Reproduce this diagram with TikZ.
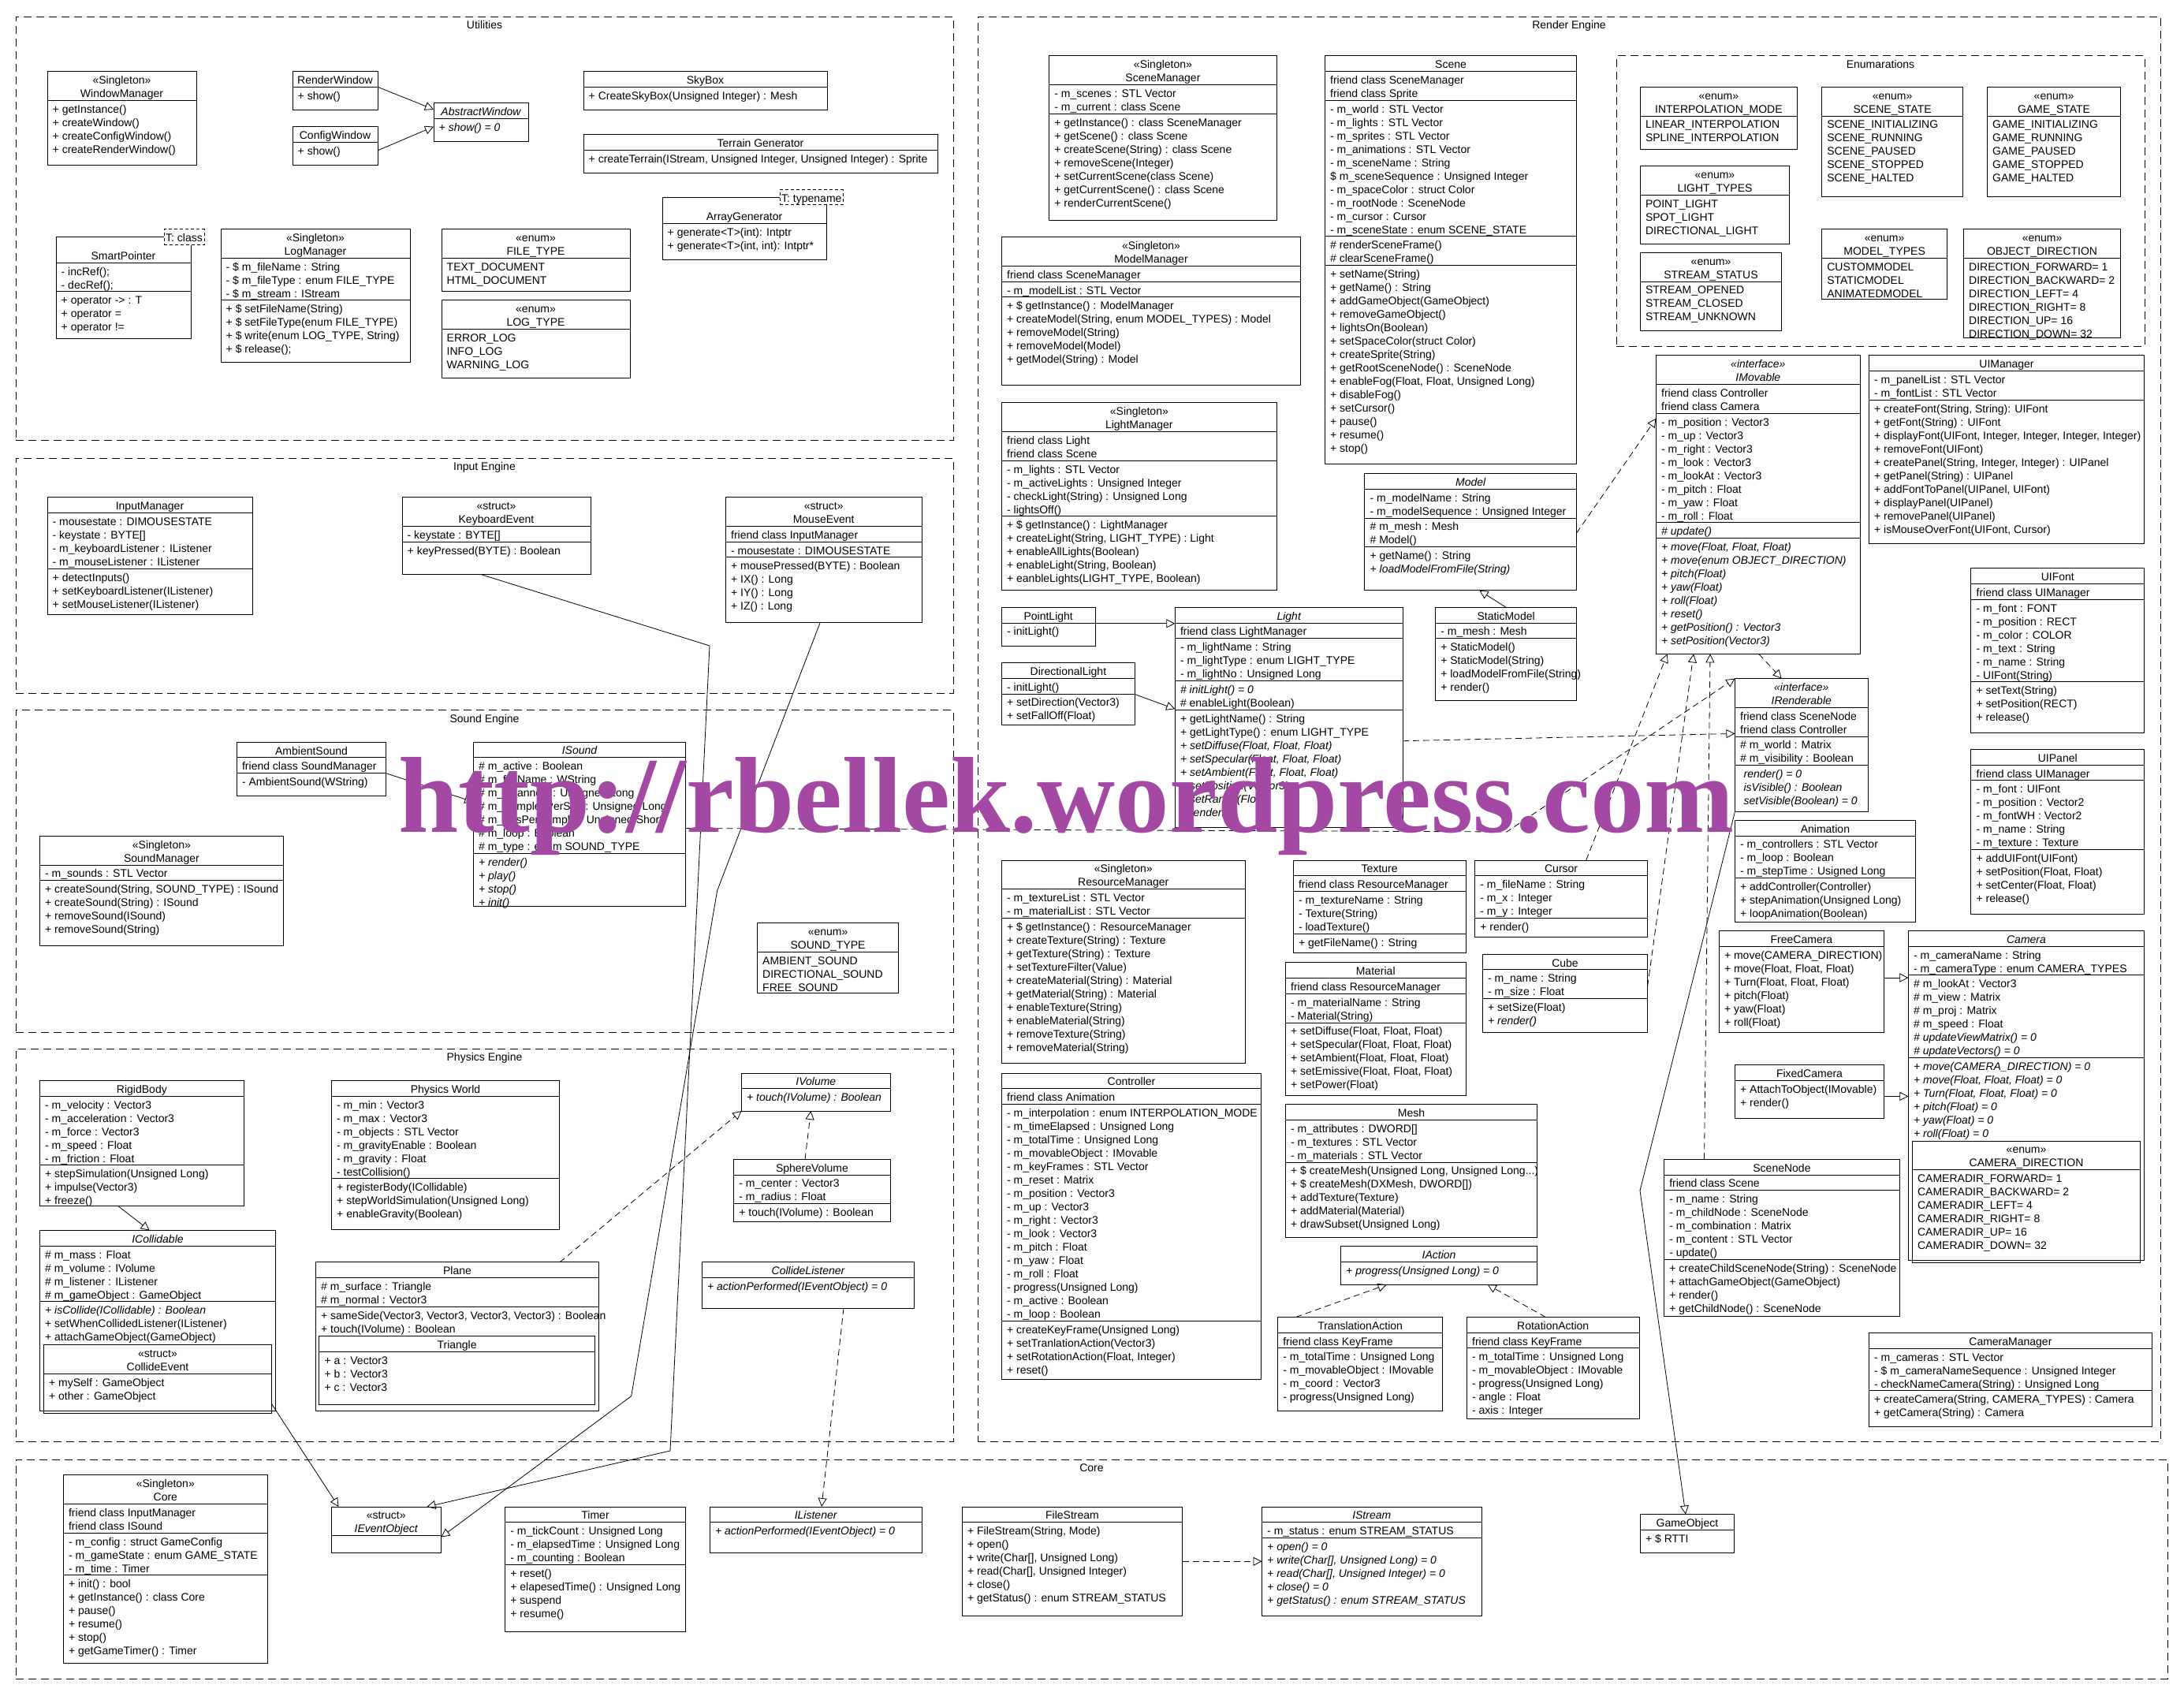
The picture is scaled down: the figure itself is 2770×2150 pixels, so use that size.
\documentclass[tikz,border=0pt]{standalone}
\usepackage{fontspec}
\setmainfont{Liberation Sans}
\newfontfamily\wmserif{Liberation Serif}
\usetikzlibrary{arrows.meta}
\definecolor{wmpurple}{RGB}{163,73,164}
\newcommand\ufont{\fontsize{14}{17}\selectfont}
\tikzset{
  ubx/.style={draw=black, line width=1.0pt, fill=white, inner sep=0pt, outer sep=0pt},
  utm/.style={draw=black, line width=0.9pt, fill=white, dash pattern=on 4pt off 3pt, inner sep=0pt, outer sep=0pt},
  pkgframe/.style={draw=black, line width=1.0pt, dash pattern=on 10pt off 6pt, inner sep=0pt, outer sep=0pt},
  sepline/.style={draw=black, line width=1.0pt},
  ltxt/.style={inner sep=0pt, anchor=base west, font=\ufont},
  ctxt/.style={inner sep=0pt, anchor=base, font=\ufont},
  genl/.style={draw=black, line width=0.8pt, -{Triangle[open, length=11pt, width=11pt, line width=0.8pt]}},
  reall/.style={genl, dash pattern=on 8pt off 5pt},
}
\newcommand\ubox[6][]{%
  \pgfmathsetmacro\ubw{#5-#3}\pgfmathsetmacro\ubh{#6-#4}%
  \node[ubx, #1, minimum width=\ubw pt, minimum height=\ubh pt, anchor=north west] (#2) at (#3,#4) {};
  \pgfmathsetmacro\utmp{#3+6.5}\xdef\ucxt{\utmp}%
  \pgfmathsetmacro\utmp{(#3+#5)/2}\xdef\ucxm{\utmp}%
  \xdef\ucxa{#3}\xdef\ucxb{#5}\xdef\ucy{#4}}
\newcommand\uhd[1]{\pgfmathsetmacro\utmp{\ucy+15.9}\node[ctxt] at (\ucxm,\utmp) {#1};\pgfmathsetmacro\utmp{\ucy+17}\xdef\ucy{\utmp}}
\newcommand\uln[1]{\pgfmathsetmacro\utmp{\ucy+15.9}\node[ltxt] at (\ucxt,\utmp) {#1};\pgfmathsetmacro\utmp{\ucy+17}\xdef\ucy{\utmp}}
\newcommand\usep{\pgfmathsetmacro\utmp{\ucy+2.7}\xdef\ucy{\utmp}\draw[sepline] (\ucxa,\ucy) -- (\ucxb,\ucy);}
\newcommand\ugap[1]{\pgfmathsetmacro\utmp{\ucy+#1}\xdef\ucy{\utmp}}
\newcommand\upkg[6]{%
  \pgfmathsetmacro\ubw{#4-#2}\pgfmathsetmacro\ubh{#5-#3}%
  \node[pkgframe, minimum width=\ubw pt, minimum height=\ubh pt, anchor=north west] (#1) at (#2,#3) {};
  \pgfmathsetmacro\utmp{(#2+#4)/2}\pgfmathsetmacro\utmpb{#3+15.5}%
  \node[ctxt] (#1t) at (\utmp,\utmpb) {#6};}
\newcommand\utmpl[6]{%
  \pgfmathsetmacro\ubw{#4-#2}\pgfmathsetmacro\ubh{#5-#3}%
  \node[utm, minimum width=\ubw pt, minimum height=\ubh pt, anchor=north west] (#1) at (#2,#3) {};
  \pgfmathsetmacro\utmp{#2+2}\pgfmathsetmacro\utmpb{#3+15.5}%
  \node[ltxt] at (\utmp,\utmpb) {#6};}
\begin{document}
\begin{tikzpicture}[x=1pt,y=-1pt]
\useasboundingbox (0,0) rectangle (2770,2150);
\fill[white] (0,0) rectangle (2770,2150);
% ---------------- packages
\upkg{fUtil}{20}{21}{1209}{558.7}{Utilities}
\upkg{fInput}{20}{581}{1209}{879}{Input Engine}
\upkg{fSound}{20}{900.6}{1209}{1309}{Sound Engine}
\upkg{fPhys}{20}{1330}{1209}{1828.6}{Physics Engine}
\upkg{fRender}{1240}{21}{2740}{1828.6}{Render Engine}
\upkg{fEnum}{2050}{70.8}{2720}{439}{Enumarations}
\upkg{fCore}{20}{1851}{2749}{2129}{Core}
% ---------------- Utilities
\ubox{WM}{60}{90.8}{249}{209.5}
\uhd{«Singleton»}\uhd{WindowManager}\usep
\uln{+ getInstance()}\uln{+ createWindow()}\uln{+ createConfigWindow()}\uln{+ createRenderWindow()}
\ubox{RW}{371}{90.8}{479}{139.7}
\uhd{RenderWindow}\usep\uln{+ show()}
\ubox{CW}{371}{160.6}{479}{209.5}
\uhd{ConfigWindow}\usep\uln{+ show()}
\ubox{AW}{550}{130.8}{670}{179.2}
\uhd{\itshape AbstractWindow}\usep\uln{\itshape + show() = 0}
\ubox{SkyBox}{740}{90.8}{1049}{139.7}
\uhd{SkyBox}\usep\uln{+ CreateSkyBox(Unsigned Integer) : Mesh}
\ubox{TG}{740}{170.4}{1189}{219.3}
\uhd{Terrain Generator}\usep\uln{+ createTerrain(IStream, Unsigned Integer, Unsigned Integer) : Sprite}
\ubox{AG}{840}{250.5}{1048}{329.6}
\ugap{13.2}\uhd{ArrayGenerator}\usep\uln{+ generate<T>(int): Intptr}\uln{+ generate<T>(int, int): Intptr*}
\utmpl{AGt}{989}{240.7}{1069}{259.8}{T: typename}
\ubox{SP}{71}{300.3}{242}{429.2}
\ugap{13.2}\uhd{SmartPointer}\usep\uln{- incRef();}\uln{- decRef();}\usep
\uln{+ operator -> : T}\uln{+ operator =}\uln{+ operator !=}
\utmpl{SPt}{208}{290.5}{259}{310.5}{T: class}
\ubox{LM}{280}{290.5}{520}{459.5}
\uhd{«Singleton»}\uhd{LogManager}\usep
\uln{- \$ m\_fileName : String}\uln{- \$ m\_fileType : enum FILE\_TYPE}\uln{- \$ m\_stream : IStream}\usep
\uln{+ \$ setFileName(String)}\uln{+ \$ setFileType(enum FILE\_TYPE)}\uln{+ \$ write(enum LOG\_TYPE, String)}\uln{+ \$ release();}
\ubox{FT}{560}{290.5}{799}{369.2}
\uhd{«enum»}\uhd{FILE\_TYPE}\usep\uln{TEXT\_DOCUMENT}\uln{HTML\_DOCUMENT}
\ubox{LT}{560}{380.4}{799}{479}
\uhd{«enum»}\uhd{LOG\_TYPE}\usep\uln{ERROR\_LOG}\uln{INFO\_LOG}\uln{WARNING\_LOG}
% ---------------- Input Engine
\ubox{IM}{60}{630.8}{320}{779}
\uhd{InputManager}\usep
\uln{- mousestate : DIMOUSESTATE}\uln{- keystate : BYTE[]}\uln{- m\_keyboardListener : IListener}\uln{- m\_mouseListener : IListener}\usep
\uln{+ detectInputs()}\uln{+ setKeyboardListener(IListener)}\uln{+ setMouseListener(IListener)}
\ubox{KE}{510}{630.8}{749}{728.4}
\uhd{«struct»}\uhd{KeyboardEvent}\usep\uln{- keystate : BYTE[]}\usep\uln{+ keyPressed(BYTE) : Boolean}
\ubox{ME}{920.4}{630.8}{1169}{789}
\uhd{«struct»}\uhd{MouseEvent}\usep\uln{friend class InputManager}\usep\uln{- mousestate : DIMOUSESTATE}\usep
\uln{+ mousePressed(BYTE) : Boolean}\uln{+ IX() : Long}\uln{+ IY() : Long}\uln{+ IZ() : Long}
% ---------------- Sound Engine
\ubox{AS}{300.4}{941.1}{489.7}{1009}
\uhd{AmbientSound}\usep\uln{friend class SoundManager}\usep\uln{- AmbientSound(WString)}
\ubox{IS}{600.4}{941}{869.5}{1149}
\uhd{\itshape ISound}\usep
\uln{\# m\_active : Boolean}\uln{\# m\_fileName : WString}\uln{\# m\_Channels : Unsigned Long}\uln{\# m\_SamplesPerSec : Unsigned Long}\uln{\# m\_BitsPerSample : Unsigned Short}\uln{\# m\_loop : Boolean}\uln{\# m\_type : enum SOUND\_TYPE}\usep
\uln{\itshape + render()}\uln{\itshape + play()}\uln{\itshape + stop()}\uln{\itshape + init()}
\ubox{SM}{50.4}{1060.3}{359.4}{1199}
\uhd{«Singleton»}\uhd{SoundManager}\usep\uln{- m\_sounds : STL Vector}\usep
\uln{+ createSound(String, SOUND\_TYPE) : ISound}\uln{+ createSound(String) : ISound}\uln{+ removeSound(ISound)}\uln{+ removeSound(String)}
\ubox{ST}{960.5}{1170.7}{1139.6}{1259}
\uhd{«enum»}\uhd{SOUND\_TYPE}\usep\uln{AMBIENT\_SOUND}\uln{DIRECTIONAL\_SOUND}\uln{FREE\_SOUND}
% ---------------- Physics Engine
\ubox{RB}{50.4}{1370.4}{309.4}{1529.7}
\uhd{RigidBody}\usep
\uln{- m\_velocity : Vector3}\uln{- m\_acceleration : Vector3}\uln{- m\_force : Vector3}\uln{- m\_speed : Float}\uln{- m\_friction : Float}\usep
\uln{+ stepSimulation(Unsigned Long)}\uln{+ impulse(Vector3)}\uln{+ freeze()}
\ubox{PW}{420.5}{1370.4}{709.6}{1559}
\uhd{Physics World}\usep
\uln{- m\_min : Vector3}\uln{- m\_max : Vector3}\uln{- m\_objects : STL Vector}\uln{- m\_gravityEnable : Boolean}\uln{- m\_gravity : Float}\uln{- testCollision()}\usep
\uln{+ registerBody(ICollidable)}\uln{+ stepWorldSimulation(Unsigned Long)}\uln{+ enableGravity(Boolean)}
\ubox{IVol}{940.4}{1361}{1129.3}{1409}
\uhd{\itshape IVolume}\usep\uln{\itshape + touch(IVolume) : Boolean}
\ubox{SV}{930.6}{1470.3}{1129.3}{1549}
\uhd{SphereVolume}\usep\uln{- m\_center : Vector3}\uln{- m\_radius : Float}\usep\uln{+ touch(IVolume) : Boolean}
\ubox{ICol}{50.4}{1560.5}{349.6}{1789.2}
\uhd{\itshape ICollidable}\usep
\uln{\# m\_mass : Float}\uln{\# m\_volume : IVolume}\uln{\# m\_listener : IListener}\uln{\# m\_gameObject : GameObject}\usep
\uln{\itshape + isCollide(ICollidable) : Boolean}\uln{+ setWhenCollidedListener(IListener)}\uln{+ attachGameObject(GameObject)}
\ubox[fill=none]{CE}{55.4}{1705.4}{344.6}{1792.4}
\uhd{«struct»}\uhd{CollideEvent}\usep\uln{+ mySelf : GameObject}\uln{+ other : GameObject}
\ubox{Plane}{400.4}{1600.8}{759.6}{1789.2}
\uhd{Plane}\usep\uln{\# m\_surface : Triangle}\uln{\# m\_normal : Vector3}\usep
\uln{+ sameSide(Vector3, Vector3, Vector3, Vector3) : Boolean}\uln{+ touch(IVolume) : Boolean}
\ubox[fill=none]{Tri}{404.9}{1694.5}{754.3}{1781}
\uhd{Triangle}\usep\uln{+ a : Vector3}\uln{+ b : Vector3}\uln{+ c : Vector3}
\ubox{CL}{890.4}{1600.8}{1159.6}{1659.2}
\uhd{\itshape CollideListener}\usep\uln{\itshape + actionPerformed(IEventObject) = 0}
% ---------------- Core
\ubox{Core}{80.4}{1870.7}{339.3}{2109}
\uhd{«Singleton»}\uhd{Core}\usep\uln{friend class InputManager}\uln{friend class ISound}\usep
\uln{- m\_config : struct GameConfig}\uln{- m\_gameState : enum GAME\_STATE}\uln{- m\_time : Timer}\usep
\uln{+ init() : bool}\uln{+ getInstance() : class Core}\uln{+ pause()}\uln{+ resume()}\uln{+ stop()}\uln{+ getGameTimer() : Timer}
\ubox{IEO}{420}{1911}{559.4}{1969}
\uhd{«struct»}\uhd{\itshape IEventObject}\usep
\ubox{Timer}{640.6}{1911}{869.5}{2069}
\uhd{Timer}\usep\uln{- m\_tickCount : Unsigned Long}\uln{- m\_elapsedTime : Unsigned Long}\uln{- m\_counting : Boolean}\usep
\uln{+ reset()}\uln{+ elapesedTime() : Unsigned Long}\uln{+ suspend}\uln{+ resume()}
\ubox{IL}{900.3}{1911}{1169}{1969}
\uhd{\itshape IListener}\usep\uln{\itshape + actionPerformed(IEventObject) = 0}
\ubox{FS}{1220.4}{1911}{1499.6}{2049}
\uhd{FileStream}\usep\uln{+ FileStream(String, Mode)}\uln{+ open()}\uln{+ write(Char[], Unsigned Long)}\uln{+ read(Char[], Unsigned Integer)}\uln{+ close()}\uln{+ getStatus() : enum STREAM\_STATUS}
\ubox{ISt}{1600.5}{1911}{1879}{2049}
\uhd{\itshape IStream}\usep\uln{- m\_status : enum STREAM\_STATUS}\usep
\uln{\itshape + open() = 0}\uln{\itshape + write(Char[], Unsigned Long) = 0}\uln{\itshape + read(Char[], Unsigned Integer) = 0}\uln{\itshape + close() = 0}\uln{\itshape + getStatus() : enum STREAM\_STATUS}
\ubox{GO}{2080.3}{1920.5}{2199.5}{1969}
\uhd{GameObject}\usep\uln{+ \$ RTTI}
% ---------------- Render Engine
\ubox{SceneMgr}{1330.6}{70.8}{1619.3}{279.3}
\uhd{«Singleton»}\uhd{SceneManager}\usep\uln{- m\_scenes : STL Vector}\uln{- m\_current : class Scene}\usep
\uln{+ getInstance() : class SceneManager}\uln{+ getScene() : class Scene}\uln{+ createScene(String) : class Scene}\uln{+ removeScene(Integer)}\uln{+ setCurrentScene(class Scene)}\uln{+ getCurrentScene() : class Scene}\uln{+ renderCurrentScene()}
\ubox{ModelMgr}{1270.4}{300.7}{1649.6}{488.8}
\uhd{«Singleton»}\uhd{ModelManager}\usep\uln{friend class SceneManager}\usep\uln{- m\_modelList : STL Vector}\usep
\uln{+ \$ getInstance() : ModelManager}\uln{+ createModel(String, enum MODEL\_TYPES) : Model}\uln{+ removeModel(String)}\uln{+ removeModel(Model)}\uln{+ getModel(String) : Model}
\ubox{LightMgr}{1270.4}{510.7}{1619.3}{748.9}
\uhd{«Singleton»}\uhd{LightManager}\usep\uln{friend class Light}\uln{friend class Scene}\usep
\uln{- m\_lights : STL Vector}\uln{- m\_activeLights : Unsigned Integer}\uln{- checkLight(String) : Unsigned Long}\uln{- lightsOff()}\usep
\uln{+ \$ getInstance() : LightManager}\uln{+ createLight(String, LIGHT\_TYPE) : Light}\uln{+ enableAllLights(Boolean)}\uln{+ enableLight(String, Boolean)}\uln{+ eanbleLights(LIGHT\_TYPE, Boolean)}
\ubox{PL}{1270.4}{770.3}{1389}{819.2}
\uhd{PointLight}\usep\uln{- initLight()}
\ubox{DL}{1270.4}{840.6}{1439.4}{919.3}
\uhd{DirectionalLight}\usep\uln{- initLight()}\usep\uln{+ setDirection(Vector3)}\uln{+ setFallOff(Float)}
\ubox{Light}{1490.3}{770.3}{1779.1}{1049.6}
\uhd{\itshape Light}\usep\uln{friend class LightManager}\usep
\uln{- m\_lightName : String}\uln{- m\_lightType : enum LIGHT\_TYPE}\uln{- m\_lightNo : Unsigned Long}\usep
\uln{\itshape \# initLight() = 0}\uln{\# enableLight(Boolean)}\usep
\uln{+ getLightName() : String}\uln{+ getLightType() : enum LIGHT\_TYPE}\uln{\itshape + setDiffuse(Float, Float, Float)}\uln{\itshape + setSpecular(Float, Float, Float)}\uln{\itshape + setAmbient(Float, Float, Float)}\uln{\itshape + setPosition(Vector3)}\uln{\itshape + setRange(Float)}\uln{\itshape + render()}
\ubox{Scene}{1680.4}{70.8}{1999.6}{588.9}
\uhd{Scene}\usep\uln{friend class SceneManager}\uln{friend class Sprite}\usep
\uln{- m\_world : STL Vector}\uln{- m\_lights : STL Vector}\uln{- m\_sprites : STL Vector}\uln{- m\_animations : STL Vector}\uln{- m\_sceneName : String}\uln{\$ m\_sceneSequence : Unsigned Integer}\uln{- m\_spaceColor : struct Color}\uln{- m\_rootNode : SceneNode}\uln{- m\_cursor : Cursor}\uln{- m\_sceneState : enum SCENE\_STATE}\usep
\uln{\# renderSceneFrame()}\uln{\# clearSceneFrame()}\usep
\uln{+ setName(String)}\uln{+ getName() : String}\uln{+ addGameObject(GameObject)}\uln{+ removeGameObject()}\uln{+ lightsOn(Boolean)}\uln{+ setSpaceColor(struct Color)}\uln{+ createSprite(String)}\uln{+ getRootSceneNode() : SceneNode}\uln{+ enableFog(Float, Float, Unsigned Long)}\uln{+ disableFog()}\uln{+ setCursor()}\uln{+ pause()}\uln{+ resume()}\uln{+ stop()}
\ubox{Model}{1730.9}{600.6}{1999.6}{748.9}
\uhd{\itshape Model}\usep\uln{- m\_modelName : String}\uln{- m\_modelSequence : Unsigned Integer}\usep
\uln{\# m\_mesh : Mesh}\uln{\# Model()}\usep\uln{+ getName() : String}\uln{\itshape + loadModelFromFile(String)}
\ubox{StaticModel}{1820.6}{770.3}{1999.6}{888.5}
\uhd{StaticModel}\usep\uln{- m\_mesh : Mesh}\usep\uln{+ StaticModel()}\uln{+ StaticModel(String)}\uln{+ loadModelFromFile(String)}\uln{+ render()}
\ubox{IMov}{2100.4}{450.7}{2359.3}{829.4}
\uhd{\itshape «interface»}\uhd{\itshape IMovable}\usep\uln{friend class Controller}\uln{friend class Camera}\usep
\uln{- m\_position : Vector3}\uln{- m\_up : Vector3}\uln{- m\_right : Vector3}\uln{- m\_look : Vector3}\uln{- m\_lookAt : Vector3}\uln{- m\_pitch : Float}\uln{- m\_yaw : Float}\uln{- m\_roll : Float}\usep
\uln{\itshape \# update()}\usep
\uln{\itshape + move(Float, Float, Float)}\uln{\itshape + move(enum OBJECT\_DIRECTION)}\uln{\itshape + pitch(Float)}\uln{\itshape + yaw(Float)}\uln{\itshape + roll(Float)}\uln{\itshape + reset()}\uln{\itshape + getPosition() : Vector3}\uln{\itshape + setPosition(Vector3)}
\ubox{UIM}{2370.4}{450.7}{2719.6}{689}
\uhd{UIManager}\usep\uln{- m\_panelList : STL Vector}\uln{- m\_fontList : STL Vector}\usep
\uln{+ createFont(String, String): UIFont}\uln{+ getFont(String) : UIFont}\uln{+ displayFont(UIFont, Integer, Integer, Integer, Integer)}\uln{+ removeFont(UIFont)}\uln{+ createPanel(String, Integer, Integer) : UIPanel}\uln{+ getPanel(String) : UIPanel}\uln{+ addFontToPanel(UIPanel, UIFont)}\uln{+ displayPanel(UIPanel)}\uln{+ removePanel(UIPanel)}\uln{+ isMouseOverFont(UIFont, Cursor)}
\ubox{UIF}{2499.9}{720.7}{2719.6}{929}
\uhd{UIFont}\usep\uln{friend class UIManager}\usep
\uln{- m\_font : FONT}\uln{- m\_position : RECT}\uln{- m\_color : COLOR}\uln{- m\_text : String}\uln{- m\_name : String}\uln{- UIFont(String)}\usep
\uln{+ setText(String)}\uln{+ setPosition(RECT)}\uln{+ release()}
\ubox{UIP}{2499.9}{950.4}{2719.6}{1159}
\uhd{UIPanel}\usep\uln{friend class UIManager}\usep
\uln{- m\_font : UIFont}\uln{- m\_position : Vector2}\uln{- m\_fontWH : Vector2}\uln{- m\_name : String}\uln{- m\_texture : Texture}\usep
\uln{+ addUIFont(UIFont)}\uln{+ setPosition(Float, Float)}\uln{+ setCenter(Float, Float)}\uln{+ release()}
\ubox{IRen}{2200.4}{860.6}{2369.1}{1029.6}
\uhd{\itshape «interface»}\uhd{\itshape IRenderable}\usep\uln{friend class SceneNode}\uln{friend class Controller}\usep
\uln{\# m\_world : Matrix}\uln{\# m\_visibility : Boolean}\usep
\uln{\itshape\kern4.5pt render() = 0}\uln{\itshape\kern4.5pt isVisible() : Boolean}\uln{\itshape\kern4.5pt setVisible(Boolean) = 0}
\ubox{Anim}{2200.4}{1040.3}{2429.4}{1169.3}
\uhd{Animation}\usep\uln{- m\_controllers : STL Vector}\uln{- m\_loop : Boolean}\uln{- m\_stepTime : Usigned Long}\usep
\uln{+ addController(Controller)}\uln{+ stepAnimation(Unsigned Long)}\uln{+ loopAnimation(Boolean)}
\ubox{FC}{2180.3}{1180.4}{2389.6}{1309}
\uhd{FreeCamera}\usep\uln{+ move(CAMERA\_DIRECTION)}\uln{+ move(Float, Float, Float)}\uln{+ Turn(Float, Float, Float)}\uln{+ pitch(Float)}\uln{+ yaw(Float)}\uln{+ roll(Float)}
\ubox{FxC}{2200.4}{1350.8}{2389.6}{1418.3}
\uhd{FixedCamera}\usep\uln{+ AttachToObject(IMovable)}\uln{+ render()}
\ubox{Cam}{2420.4}{1180.4}{2719.6}{1598.5}
\uhd{\itshape Camera}\usep\uln{- m\_cameraName : String}\uln{- m\_cameraType : enum CAMERA\_TYPES}\usep
\uln{\# m\_lookAt : Vector3}\uln{\# m\_view : Matrix}\uln{\# m\_proj : Matrix}\uln{\# m\_speed : Float}\uln{\itshape \# updateViewMatrix() = 0}\uln{\itshape \# updateVectors() = 0}\usep
\uln{\itshape + move(CAMERA\_DIRECTION) = 0}\uln{\itshape + move(Float, Float, Float) = 0}\uln{\itshape + Turn(Float, Float, Float) = 0}\uln{\itshape + pitch(Float) = 0}\uln{\itshape + yaw(Float) = 0}\uln{\itshape + roll(Float) = 0}
\ubox[fill=none]{CD}{2425.4}{1447}{2714.6}{1601.7}
\uhd{«enum»}\uhd{CAMERA\_DIRECTION}\usep
\uln{CAMERADIR\_FORWARD= 1}\uln{CAMERADIR\_BACKWARD= 2}\uln{CAMERADIR\_LEFT= 4}\uln{CAMERADIR\_RIGHT= 8}\uln{CAMERADIR\_UP= 16}\uln{CAMERADIR\_DOWN= 32}
\ubox{SN}{2110.6}{1470.3}{2409.3}{1669.6}
\uhd{SceneNode}\usep\uln{friend class Scene}\usep
\uln{- m\_name : String}\uln{- m\_childNode : SceneNode}\uln{- m\_combination : Matrix}\uln{- m\_content : STL Vector}\uln{- update()}\usep
\uln{+ createChildSceneNode(String) : SceneNode}\uln{+ attachGameObject(GameObject)}\uln{+ render()}\uln{+ getChildNode() : SceneNode}
\ubox{CamMgr}{2370.4}{1690.5}{2729.4}{1809.1}
\uhd{CameraManager}\usep\uln{- m\_cameras : STL Vector}\uln{- \$ m\_cameraNameSequence : Unsigned Integer}\uln{- checkNameCamera(String) : Unsigned Long}\usep
\uln{+ createCamera(String, CAMERA\_TYPES) : Camera}\uln{+ getCamera(String) : Camera}
% enumerations
\ubox{IMode}{2080.3}{110.3}{2279.4}{189.5}
\uhd{«enum»}\uhd{INTERPOLATION\_MODE}\usep\uln{LINEAR\_INTERPOLATION}\uln{SPLINE\_INTERPOLATION}
\ubox{SS}{2310.6}{110.3}{2489.6}{249}
\uhd{«enum»}\uhd{SCENE\_STATE}\usep\uln{SCENE\_INITIALIZING}\uln{SCENE\_RUNNING}\uln{SCENE\_PAUSED}\uln{SCENE\_STOPPED}\uln{SCENE\_HALTED}
\ubox{GS}{2520.4}{110.3}{2689.6}{249}
\uhd{«enum»}\uhd{GAME\_STATE}\usep\uln{GAME\_INITIALIZING}\uln{GAME\_RUNNING}\uln{GAME\_PAUSED}\uln{GAME\_STOPPED}\uln{GAME\_HALTED}
\ubox{LTy}{2080.3}{210.4}{2269.6}{309.1}
\uhd{«enum»}\uhd{LIGHT\_TYPES}\usep\uln{POINT\_LIGHT}\uln{SPOT\_LIGHT}\uln{DIRECTIONAL\_LIGHT}
\ubox{SSt}{2080.3}{320.3}{2259.7}{419}
\uhd{«enum»}\uhd{STREAM\_STATUS}\usep\uln{STREAM\_OPENED}\uln{STREAM\_CLOSED}\uln{STREAM\_UNKNOWN}
\ubox{MT}{2310.6}{290.5}{2469.6}{379}
\uhd{«enum»}\uhd{MODEL\_TYPES}\usep\uln{CUSTOMMODEL}\uln{STATICMODEL}\uln{ANIMATEDMODEL}
\ubox{OD}{2490.5}{290.5}{2689.6}{428.8}
\uhd{«enum»}\uhd{OBJECT\_DIRECTION}\usep
\uln{DIRECTION\_FORWARD= 1}\uln{DIRECTION\_BACKWARD= 2}\uln{DIRECTION\_LEFT= 4}\uln{DIRECTION\_RIGHT= 8}\uln{DIRECTION\_UP= 16}\uln{DIRECTION\_DOWN= 32}
% resources
\ubox{RM}{1270.4}{1091}{1579.1}{1348.5}
\uhd{«Singleton»}\uhd{ResourceManager}\usep\uln{- m\_textureList : STL Vector}\uln{- m\_materialList : STL Vector}\usep
\uln{+ \$ getInstance() : ResourceManager}\uln{+ createTexture(String) : Texture}\uln{+ getTexture(String) : Texture}\uln{+ setTextureFilter(Value)}\uln{+ createMaterial(String) : Material}\uln{+ getMaterial(String) : Material}\uln{+ enableTexture(String)}\uln{+ enableMaterial(String)}\uln{+ removeTexture(String)}\uln{+ removeMaterial(String)}
\ubox{Ctrl}{1270.4}{1361}{1599.6}{1749.3}
\uhd{Controller}\usep\uln{friend class Animation}\usep
\uln{- m\_interpolation : enum INTERPOLATION\_MODE}\uln{- m\_timeElapsed : Unsigned Long}\uln{- m\_totalTime : Unsigned Long}\uln{- m\_movableObject : IMovable}\uln{- m\_keyFrames : STL Vector}\uln{- m\_reset : Matrix}\uln{- m\_position : Vector3}\uln{- m\_up : Vector3}\uln{- m\_right : Vector3}\uln{- m\_look : Vector3}\uln{- m\_pitch : Float}\uln{- m\_yaw : Float}\uln{- m\_roll : Float}\uln{- progress(Unsigned Long)}\uln{- m\_active : Boolean}\uln{- m\_loop : Boolean}\usep
\uln{+ createKeyFrame(Unsigned Long)}\uln{+ setTranlationAction(Vector3)}\uln{+ setRotationAction(Float, Integer)}\uln{+ reset()}
\ubox{Tex}{1640.3}{1091}{1859}{1208.8}
\uhd{Texture}\usep\uln{friend class ResourceManager}\usep\uln{- m\_textureName : String}\uln{- Texture(String)}\uln{- loadTexture()}\usep\uln{+ getFileName() : String}
\ubox{Mat}{1630.4}{1220.9}{1859}{1389}
\uhd{Material}\usep\uln{friend class ResourceManager}\usep\uln{- m\_materialName : String}\uln{- Material(String)}\usep
\uln{+ setDiffuse(Float, Float, Float)}\uln{+ setSpecular(Float, Float, Float)}\uln{+ setAmbient(Float, Float, Float)}\uln{+ setEmissive(Float, Float, Float)}\uln{+ setPower(Float)}
\ubox{Cur}{1870.6}{1091}{2089.6}{1188.8}
\uhd{Cursor}\usep\uln{- m\_fileName : String}\uln{- m\_x : Integer}\uln{- m\_y : Integer}\usep\uln{+ render()}
\ubox{Cube}{1880.4}{1210.2}{2089.6}{1309}
\uhd{Cube}\usep\uln{- m\_name : String}\uln{- m\_size : Float}\usep\uln{+ setSize(Float)}\uln{\itshape + render()}
\ubox{Mesh}{1630.4}{1400.6}{1949.6}{1569}
\uhd{Mesh}\usep\uln{- m\_attributes : DWORD[]}\uln{- m\_textures : STL Vector}\uln{- m\_materials : STL Vector}\usep
\uln{+ \$ createMesh(Unsigned Long, Unsigned Long...)}\uln{+ \$ createMesh(DXMesh, DWORD[])}\uln{+ addTexture(Texture)}\uln{+ addMaterial(Material)}\uln{+ drawSubset(Unsigned Long)}
\ubox{IAct}{1700.5}{1580.4}{1949.6}{1629.3}
\uhd{\itshape IAction}\usep\uln{\itshape + progress(Unsigned Long) = 0}
\ubox{TA}{1620.6}{1670.5}{1829.6}{1789.2}
\uhd{TranslationAction}\usep\uln{friend class KeyFrame}\usep
\uln{- m\_totalTime : Unsigned Long}\uln{- m\_movableObject : IMovable}\uln{- m\_coord : Vector3}\uln{- progress(Unsigned Long)}
\ubox{RA}{1860.4}{1670.5}{2079}{1799.1}
\uhd{RotationAction}\usep\uln{friend class KeyFrame}\usep
\uln{- m\_totalTime : Unsigned Long}\uln{- m\_movableObject : IMovable}\uln{- progress(Unsigned Long)}\uln{- angle : Float}\uln{- axis : Integer}
% ---------------- connectors
\draw[genl] ([yshift=-19.5]RW.north east) -- ([yshift=-7.9]AW.north west);
\draw[genl] ([yshift=-30.3]CW.north east) -- ([yshift=-29.8]AW.north west);
\draw[genl] ([xshift=-20]KE.south) -- (900,819) -- (850,1840) -- ([xshift=-18]IEO.north east);
\draw[genl] ([xshift=-4.3]ME.south) -- (909.6,1129.7) -- (800.7,1770.6) -- ([yshift=-9.5]IEO.east);
\draw[genl] ([yshift=11.8]CE.south east) -- ([xshift=9.5]IEO.north west);
\draw[genl] ([yshift=-39.6]AS.north east) -- ([yshift=-76]IS.north west);
\draw[reall] ([yshift=-5.5]IS.east) -- (1911,1055) -- (IRen.north west);
\draw[genl] ([xshift=99.6]RB.south west) -- ([xshift=139.3]ICol.north west);
\draw[reall] ([xshift=309.6]Plane.north west) -- (IVol.south west);
\draw[reall] ([xshift=90.4]SV.north west) -- ([xshift=88]IVol.south west);
\draw[reall] ([xshift=179.6]CL.south west) -- ([xshift=141.7]IL.north west);
\draw[reall] ([yshift=-69.3]FS.north east) -- ([yshift=-69.3]ISt.north west);
\draw[genl] ([yshift=-20.5]PL.north east) -- ([yshift=-20.5]Light.north west);
\draw[genl] ([yshift=-40]DL.north east) -- ([yshift=-128.9]Light.north west);
\draw[genl] (StaticModel.north) -- ([xshift=145.5]Model.south west);
\draw[reall] ([yshift=-75.4]Model.north east) -- ([yshift=-80]IMov.north west);
\draw[reall] ([yshift=-169.4]Light.north east) -- ([yshift=-69.8]IRen.north west);
\draw[reall] ([xshift=130.3]IMov.south west) -- ([xshift=59.3]IRen.north west);
\draw[reall] ([xshift=141.1]Cur.north west) -- ([xshift=14.2]IMov.south west);
\draw[reall] ([yshift=-40.5]Cube.north east) -- ([xshift=47.6]IMov.south west);
\draw[reall] ([xshift=50.9]SN.north west) -- ([xshift=68.6]IMov.south west);
\draw[genl] (IRen.south west) -- (2080,1510) -- ([xshift=57.6]GO.north west);
\draw[genl] ([yshift=-59.6]FC.north east) -- ([yshift=-59.6]Cam.north west);
\draw[genl] ([yshift=-39.6]FxC.north east) -- ([yshift=-210]Cam.north west);
\draw[reall] ([xshift=22.8]TA.north west) -- ([xshift=58.1]IAct.south west);
\draw[reall] ([xshift=100]RA.north west) -- ([xshift=186.2]IAct.south west);
% ---------------- watermark
\node[inner sep=0pt, anchor=base west, text=wmpurple, font=\wmserif\bfseries\fontsize{137}{137}\selectfont] (wm) at (505,1055) {http://rbellek.wordpress.com};
\end{tikzpicture}
\end{document}
